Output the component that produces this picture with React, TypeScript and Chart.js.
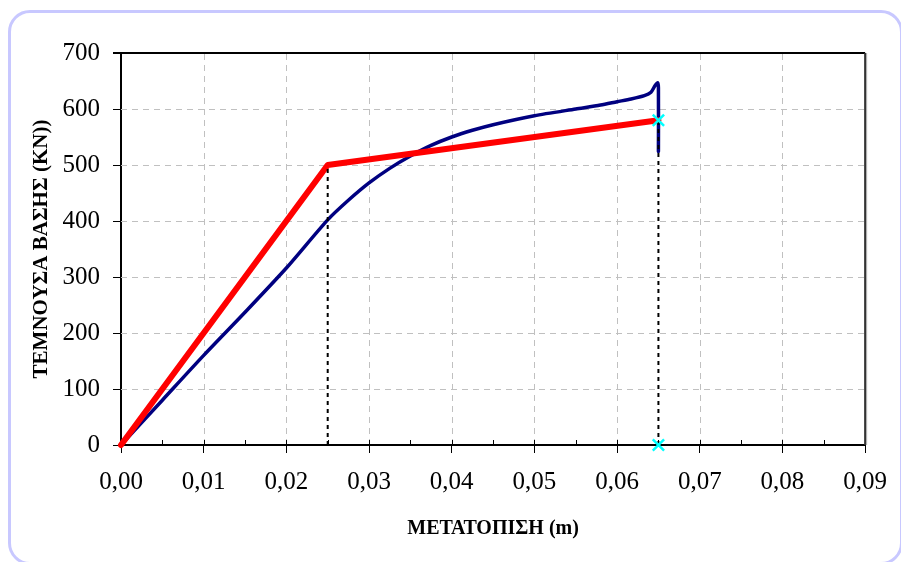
import { useEffect, useRef } from 'react';
import { Chart, registerables } from 'chart.js';

Chart.register(...registerables);

// ---- data ----
const blueX = [0, 0.005, 0.01, 0.015, 0.02, 0.025, 0.0275, 0.03, 0.0325, 0.035, 0.0375, 0.04, 0.0425, 0.045, 0.05, 0.055, 0.058, 0.06, 0.0617, 0.0633, 0.0641, 0.0646, 0.0649, 0.065, 0.065];
const blueY = [0, 80, 160, 237, 316, 402, 437, 468, 494, 516, 535, 550, 562, 572, 588, 600, 607, 613, 618, 624, 630, 642, 647, 638, 524];
const redX = [0, 0.025, 0.065];
const redY = [0, 500, 580];
const guideAX = [0.025, 0.025];
const guideAY = [0, 500];
const guideBX = [0.065, 0.065];
const guideBY = [0, 580];
const markerX = [0.065, 0.065];
const markerY = [580, 0];
const xTickValues = [0, 0.01, 0.02, 0.03, 0.04, 0.05, 0.06, 0.07, 0.08, 0.09];
const yTickValues = [0, 100, 200, 300, 400, 500, 600, 700];
const xMinorValues = [0.005, 0.01, 0.015, 0.02, 0.025, 0.03, 0.035, 0.04, 0.045, 0.05, 0.055, 0.06, 0.065, 0.07, 0.075, 0.08, 0.085];
const xTitle = 'ΜΕΤΑΤΟΠΙΣΗ (m)';
const yTitle = 'ΤΕΜΝΟΥΣΑ ΒΑΣΗΣ (ΚΝ))';

const pts = (xs: number[], ys: number[]) => xs.map((x, i) => ({ x, y: ys[i] }));

const FONT = "'Liberation Serif', 'Times New Roman', serif";

const framePlugin = {
  id: 'framePlugin',
  beforeDatasetsDraw(chart: any) {
    const { ctx, chartArea } = chart;
    const xs = chart.scales.x;
    const ys = chart.scales.y;
    const { left, right, top, bottom } = chartArea;
    ctx.save();
    // dashed grid
    ctx.strokeStyle = '#c0c0c0';
    ctx.lineWidth = 1;
    ctx.setLineDash([6, 5]);
    xTickValues.slice(1, -1).forEach((v) => {
      const px = Math.round(xs.getPixelForValue(v)) + 0.5;
      ctx.beginPath();
      ctx.moveTo(px, bottom);
      ctx.lineTo(px, top);
      ctx.stroke();
    });
    yTickValues.slice(1, -1).forEach((v) => {
      const py = Math.round(ys.getPixelForValue(v)) + 0.5;
      ctx.beginPath();
      ctx.moveTo(left, py);
      ctx.lineTo(right, py);
      ctx.stroke();
    });
    ctx.setLineDash([]);
    // inner minor ticks on x axis
    ctx.strokeStyle = '#000';
    ctx.lineWidth = 1;
    xMinorValues.forEach((v) => {
      const px = Math.round(xs.getPixelForValue(v)) + 0.5;
      ctx.beginPath();
      ctx.moveTo(px, bottom);
      ctx.lineTo(px, bottom - 5);
      ctx.stroke();
    });
    // top border
    ctx.strokeStyle = '#000';
    ctx.lineWidth = 2;
    ctx.beginPath();
    ctx.moveTo(left - 8, top);
    ctx.lineTo(right, top);
    ctx.stroke();
    // right border with shadow
    ctx.strokeStyle = '#333';
    ctx.lineWidth = 2;
    ctx.beginPath();
    ctx.moveTo(right, top);
    ctx.lineTo(right, bottom);
    ctx.stroke();
    ctx.strokeStyle = '#aaa';
    ctx.lineWidth = 1;
    ctx.beginPath();
    ctx.moveTo(right + 1.5, top);
    ctx.lineTo(right + 1.5, bottom);
    ctx.stroke();
    ctx.restore();
  },
};

export default function App() {
  const ref = useRef<HTMLCanvasElement | null>(null);

  useEffect(() => {
    if (!ref.current) return;
    const chart = new Chart(ref.current, {
      type: 'line',
      data: {
        datasets: [
          {
            label: 'markers',
            data: pts(markerX, markerY),
            showLine: false,
            pointStyle: 'crossRot',
            pointRadius: 8,
            pointBorderWidth: 2.5,
            pointBorderColor: '#00ffff',
            borderColor: '#00ffff',
            backgroundColor: '#00ffff',
            clip: false,
          } as any,
          {
            label: 'guideA',
            data: pts(guideAX, guideAY),
            borderColor: '#000',
            borderWidth: 2,
            borderDash: [4, 4],
            pointRadius: 0,
            clip: false,
          },
          {
            label: 'guideB',
            data: pts(guideBX, guideBY),
            borderColor: '#000',
            borderWidth: 2,
            borderDash: [4, 4],
            pointRadius: 0,
            clip: false,
          },
          {
            label: 'red',
            data: pts(redX, redY),
            borderColor: '#ff0000',
            borderWidth: 6,
            pointRadius: 0,
            borderJoinStyle: 'round',
            borderCapStyle: 'round',
            tension: 0,
            clip: false,
          },
          {
            label: 'blue',
            data: pts(blueX, blueY),
            borderColor: '#000080',
            borderWidth: 3.5,
            pointRadius: 0,
            borderJoinStyle: 'round',
            borderCapStyle: 'round',
            tension: 0.25,
            clip: false,
          },
        ],
      },
      options: {
        responsive: false,
        animation: false,
        layout: { padding: { top: 53, right: 33, left: 0, bottom: 0 } },
        plugins: {
          legend: { display: false },
          tooltip: { enabled: false },
        },
        events: [],
        scales: {
          x: {
            type: 'linear',
            position: 'bottom',
            min: 0,
            max: 0.09,
            afterBuildTicks: (s: any) => {
              s.ticks = xTickValues.map((v) => ({ value: v }));
            },
            afterFit: (s: any) => {
              s.height = 117;
            },
            grid: {
              display: true,
              drawOnChartArea: false,
              drawTicks: true,
              tickLength: 8,
              tickColor: '#000',
              tickWidth: 1,
              color: 'rgba(0,0,0,0)',
            },
            border: { display: true, color: '#000', width: 2 },
            ticks: {
              autoSkip: false,
              maxRotation: 0,
              minRotation: 0,
              padding: 14,
              color: '#000',
              font: { family: FONT, size: 25 },
              callback: (v: any) => Number(v).toFixed(2).replace('.', ','),
            },
            title: {
              display: true,
              text: xTitle,
              color: '#000',
              font: { family: FONT, size: 20, weight: 'bold' },
              padding: { top: 0, bottom: 21 },
            },
          },
          y: {
            type: 'linear',
            position: 'left',
            min: 0,
            max: 700,
            afterBuildTicks: (s: any) => {
              s.ticks = yTickValues.map((v) => ({ value: v }));
            },
            afterFit: (s: any) => {
              s.width = 121;
            },
            grid: {
              display: true,
              drawOnChartArea: false,
              drawTicks: true,
              tickLength: 8,
              tickColor: '#000',
              tickWidth: 1,
              color: 'rgba(0,0,0,0)',
            },
            border: { display: true, color: '#000', width: 2 },
            ticks: {
              autoSkip: false,
              padding: 13,
              color: '#000',
              font: { family: FONT, size: 25 },
              callback: (v: any) => String(v),
            },
            title: {
              display: true,
              text: yTitle,
              color: '#000',
              font: { family: FONT, size: 21, weight: 'bold' },
              padding: { top: 29, bottom: 0 },
            },
          },
        },
      },
      plugins: [framePlugin],
    });
    return () => chart.destroy();
  }, []);

  return (
    <div
      style={{
        position: 'fixed',
        left: 0,
        top: 0,
        width: 901,
        height: 562,
        overflow: 'hidden',
        background: '#fff',
      }}
    >
      <div
        style={{
          position: 'absolute',
          left: 8,
          top: 10,
          width: 895,
          height: 555,
          boxSizing: 'border-box',
          border: '3px solid #c8c8ff',
          borderRadius: 22,
        }}
      />
      <canvas
        ref={ref}
        width={901}
        height={562}
        style={{ position: 'absolute', left: 0, top: 0, width: 901, height: 562 }}
      />
    </div>
  );
}
